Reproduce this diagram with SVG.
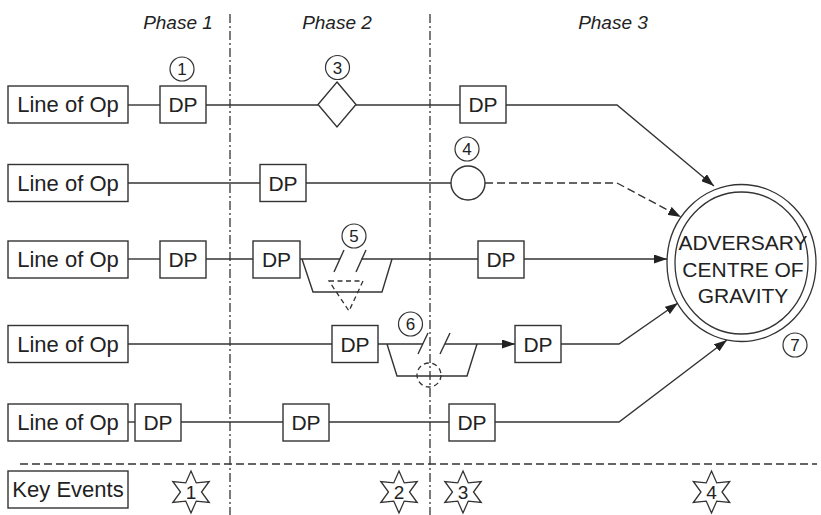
<svg xmlns="http://www.w3.org/2000/svg" width="821" height="515" viewBox="0 0 821 515">
<style>
text{font-family:"Liberation Sans",Arial,sans-serif;fill:#222}
.box{fill:#fff;stroke:#333;stroke-width:1.4}
.lbl{font-size:22px;text-anchor:middle}
.dp{font-size:21px;text-anchor:middle}
.ph{font-size:19px;font-style:italic;text-anchor:middle}
.num{font-size:17px;text-anchor:middle}
.ln{fill:none;stroke:#333;stroke-width:1.4}
.dash{fill:none;stroke:#333;stroke-width:1.4;stroke-dasharray:8 4}
.dd{fill:none;stroke:#444;stroke-width:1.4;stroke-dasharray:9 3 2 3}
.sym{fill:#fff;stroke:#333;stroke-width:1.4}
.cn{fill:none;stroke:#333;stroke-width:1.2}
</style>
<defs>
<marker id="ah" viewBox="0 0 13 9" refX="13" refY="4.5" markerWidth="13" markerHeight="9" markerUnits="userSpaceOnUse" orient="auto"><path d="M0,0 L13,4.5 L0,9 z" fill="#222"/></marker>
<path id="star" d="M0,-21 L5.25,-9.09 L18.19,-10.5 L10.5,0 L18.19,10.5 L5.25,9.09 L0,21 L-5.25,9.09 L-18.19,10.5 L-10.5,0 L-18.19,-10.5 L-5.25,-9.09 Z"/>
</defs>

<g id="phases">
<line class="dd" x1="230" y1="14" x2="230" y2="515"/>
<line class="dd" x1="430" y1="14" x2="430" y2="515"/>
<line class="dash" x1="20" y1="464" x2="817" y2="464"/>
<text class="ph" x="178" y="29">Phase 1</text>
<text class="ph" x="337" y="29">Phase 2</text>
<text class="ph" x="613" y="29">Phase 3</text>
</g>

<g id="connectors">
<!-- row 1 -->
<line class="ln" x1="128" y1="105" x2="160" y2="105"/>
<line class="ln" x1="206" y1="105" x2="318" y2="105"/>
<line class="ln" x1="356" y1="105" x2="460" y2="105"/>
<polyline class="ln" points="506,105 617,105 714,186" marker-end="url(#ah)"/>
<!-- row 2 -->
<line class="ln" x1="128" y1="183" x2="260" y2="183"/>
<line class="ln" x1="306" y1="183" x2="451" y2="183"/>
<polyline class="dash" points="485,183 617,183 681,217" marker-end="url(#ah)"/>
<!-- row 3 -->
<line class="ln" x1="128" y1="259" x2="160" y2="259"/>
<line class="ln" x1="206" y1="259" x2="253" y2="259"/>
<line class="ln" x1="300" y1="259" x2="340" y2="259"/>
<line class="ln" x1="361.5" y1="259" x2="478" y2="259"/>
<line class="ln" x1="524" y1="259" x2="667" y2="259" marker-end="url(#ah)"/>
<!-- row 4 -->
<line class="ln" x1="128" y1="344" x2="332" y2="344"/>
<line class="ln" x1="378" y1="344" x2="423" y2="344"/>
<line class="ln" x1="445" y1="344" x2="515" y2="344" marker-end="url(#ah)"/>
<polyline class="ln" points="561,344 619,344 678,303" marker-end="url(#ah)"/>
<!-- row 5 -->
<line class="ln" x1="128" y1="422" x2="135" y2="422"/>
<line class="ln" x1="181" y1="422" x2="283" y2="422"/>
<line class="ln" x1="329" y1="422" x2="449" y2="422"/>
<polyline class="ln" points="495,422 619,422 727,340" marker-end="url(#ah)"/>
</g>

<g id="row1">
<rect class="box" x="8" y="86" width="120" height="37"/><text class="lbl" x="68" y="112">Line of Op</text>
<g id="dp1a"><rect class="box" x="160" y="86" width="46" height="37"/><text class="dp" x="183" y="112">DP</text></g>
<g id="obs3"><polygon class="sym" points="337,82 356,104.5 337,127 318,104.5"/></g>
<g id="dp1b"><rect class="box" x="460" y="86" width="46" height="37"/><text class="dp" x="483" y="112">DP</text></g>
</g>

<g id="row2">
<rect class="box" x="8" y="164.5" width="120" height="37"/><text class="lbl" x="68" y="190.5">Line of Op</text>
<g id="dp2a"><rect class="box" x="260" y="164.5" width="46" height="37"/><text class="dp" x="283" y="190.5">DP</text></g>
<g id="obs4"><circle class="sym" cx="468" cy="183" r="17"/></g>
</g>

<g id="row3">
<rect class="box" x="8" y="241" width="120" height="37"/><text class="lbl" x="68" y="267">Line of Op</text>
<g id="dp3a"><rect class="box" x="160" y="241" width="46" height="37"/><text class="dp" x="183" y="267">DP</text></g>
<g id="dp3b"><rect class="box" x="253" y="241" width="47" height="37"/><text class="dp" x="276.5" y="267">DP</text></g>
<g id="obs5">
<polyline class="ln" points="302,259 313,292 382,292 392,259"/>
<line class="ln" x1="334" y1="272" x2="344" y2="250"/>
<line class="ln" x1="356" y1="272" x2="366" y2="250"/>
<polygon fill="none" stroke="#333" stroke-width="1.3" stroke-dasharray="5 3.5" points="329,281 363,281 349,311"/>
</g>
<g id="dp3c"><rect class="box" x="478" y="241" width="46" height="37"/><text class="dp" x="501" y="267">DP</text></g>
</g>

<g id="row4">
<rect class="box" x="8" y="325.5" width="120" height="37"/><text class="lbl" x="68" y="351.5">Line of Op</text>
<g id="dp4a"><rect class="box" x="332" y="325.5" width="46" height="37"/><text class="dp" x="355" y="351.5">DP</text></g>
<g id="obs6">
<polyline class="ln" points="387,344 397,376 467,376 477,344"/>
<line class="ln" x1="418" y1="354" x2="428" y2="333"/>
<line class="ln" x1="440" y1="354" x2="450" y2="333"/>
<circle fill="none" stroke="#333" stroke-width="1.3" stroke-dasharray="5 3.5" cx="429" cy="375" r="12"/>
</g>
<g id="dp4b"><rect class="box" x="515" y="325.5" width="46" height="37"/><text class="dp" x="538" y="351.5">DP</text></g>
</g>

<g id="row5">
<rect class="box" x="8" y="404" width="120" height="37"/><text class="lbl" x="68" y="430">Line of Op</text>
<g id="dp5a"><rect class="box" x="135" y="404" width="46" height="37"/><text class="dp" x="158" y="430">DP</text></g>
<g id="dp5b"><rect class="box" x="283" y="404" width="46" height="37"/><text class="dp" x="306" y="430">DP</text></g>
<g id="dp5c"><rect class="box" x="449" y="404" width="46" height="37"/><text class="dp" x="472" y="430">DP</text></g>
</g>

<g id="cog">
<ellipse fill="#fff" stroke="#333" stroke-width="1.3" cx="741.5" cy="263" rx="74.5" ry="78.5"/>
<ellipse fill="none" stroke="#333" stroke-width="1.3" cx="741.5" cy="263" rx="66.5" ry="71"/>
<text class="dp" x="743" y="250">ADVERSARY</text>
<text class="dp" x="743" y="276.5">CENTRE OF</text>
<text class="dp" x="743" y="303">GRAVITY</text>
</g>

<g id="markers">
<g id="n1"><circle class="cn" cx="182" cy="69" r="12"/><text class="num" x="182" y="75">1</text></g>
<g id="n3"><circle class="cn" cx="337.5" cy="67.5" r="12"/><text class="num" x="337.5" y="73.5">3</text></g>
<g id="n4"><circle class="cn" cx="467" cy="149" r="12"/><text class="num" x="467" y="155">4</text></g>
<g id="n5"><circle class="cn" cx="354" cy="236" r="12"/><text class="num" x="354" y="242">5</text></g>
<g id="n6"><circle class="cn" cx="410.5" cy="324" r="12"/><text class="num" x="410.5" y="330">6</text></g>
<g id="n7"><circle class="cn" cx="795" cy="345" r="12"/><text class="num" x="795" y="351">7</text></g>
</g>

<g id="keyevents">
<rect class="box" x="8" y="471" width="120" height="37"/><text class="lbl" x="68" y="497">Key Events</text>
<g id="ke1"><use href="#star" x="191" y="492" fill="#fff" stroke="#333" stroke-width="1.3"/><text class="num" x="191" y="499" style="font-size:19px">1</text></g>
<g id="ke2"><use href="#star" x="399" y="492" fill="#fff" stroke="#333" stroke-width="1.3"/><text class="num" x="399" y="499" style="font-size:19px">2</text></g>
<g id="ke3"><use href="#star" x="463" y="492" fill="#fff" stroke="#333" stroke-width="1.3"/><text class="num" x="463" y="499" style="font-size:19px">3</text></g>
<g id="ke4"><use href="#star" x="711.5" y="492" fill="#fff" stroke="#333" stroke-width="1.3"/><text class="num" x="711.5" y="499" style="font-size:19px">4</text></g>
</g>
</svg>
